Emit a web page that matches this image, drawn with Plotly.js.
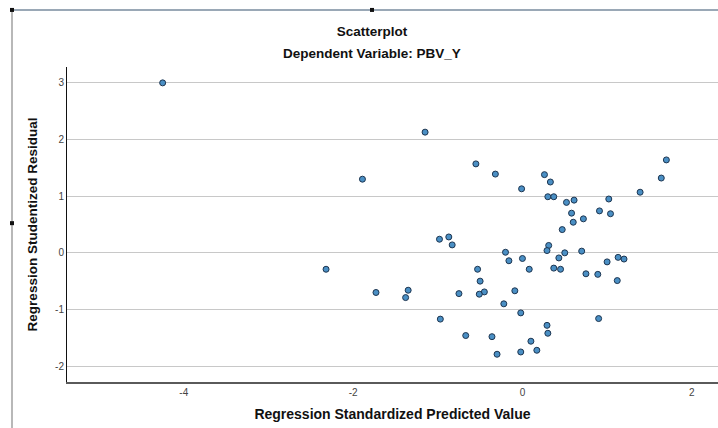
<!DOCTYPE html>
<html>
<head>
<meta charset="utf-8">
<script src="https://cdn.plot.ly/plotly-3.0.1.min.js"></script>
<style>
  html, body { margin: 0; padding: 0; background: #ffffff; }
  #chart { width: 718px; height: 428px; }
</style>
</head>
<body>
<div id="chart"></div>
<script>
// Regression Standardized Predicted Value (x)
const predicted = [
  -4.25, -1.15, -0.55, -0.32, -1.89, -0.98, -0.87, -0.83, -2.32, -0.53,
  -0.50, -0.45, -0.51, -0.75, -1.73, -1.35, -1.38, -0.97, -0.67, -0.36,
  -0.30, 1.70, 1.64, 1.39, 0.26, 0.33, -0.01, 0.30, 0.37, 0.52,
  0.61, 1.02, 0.58, 0.60, 0.72, 0.91, 1.04, 0.47, 0.31, 0.29,
  0.50, 0.70, 0.43, -0.20, -0.16, 0.00, 0.08, 0.37, 0.45, 0.75,
  0.89, 1.00, 1.13, 1.20, 1.12, -0.09, -0.22, -0.02, 0.90, 0.29,
  0.30, 0.10, 0.17, -0.02
];
// Regression Studentized Residual (y)
const residual = [
  3.00, 2.13, 1.57, 1.39, 1.30, 0.24, 0.28, 0.14, -0.29, -0.29,
  -0.50, -0.69, -0.73, -0.72, -0.70, -0.66, -0.79, -1.17, -1.46, -1.48,
  -1.79, 1.64, 1.32, 1.07, 1.38, 1.25, 1.13, 0.99, 0.99, 0.89,
  0.93, 0.95, 0.70, 0.54, 0.60, 0.74, 0.69, 0.41, 0.13, 0.04,
  0.00, 0.03, -0.09, 0.01, -0.14, -0.10, -0.29, -0.27, -0.29, -0.37,
  -0.38, -0.16, -0.08, -0.11, -0.49, -0.67, -0.90, -1.06, -1.16, -1.28,
  -1.42, -1.56, -1.72, -1.75
];
const xTickVals = [-4, -2, 0, 2];
const xTickText = ['-4', '-2', '0', '2'];
const yTickVals = [-2, -1, 0, 1, 2, 3];
const yTickText = ['-2', '-1', '0', '1', '2', '3'];

const FONT = 'Liberation Sans, Arial, sans-serif';

const trace = {
  type: 'scatter',
  mode: 'markers',
  x: predicted,
  y: residual,
  marker: {
    size: 6,
    color: '#4a8fc4',
    line: { color: '#1d3550', width: 1 }
  },
  hoverinfo: 'x+y'
};

const layout = {
  width: 718,
  height: 428,
  margin: { l: 67, r: 0, t: 67, b: 46, pad: 0 },
  paper_bgcolor: '#ffffff',
  plot_bgcolor: '#ffffff',
  showlegend: false,
  font: { family: FONT, color: '#222222' },
  title: {
    text: 'Scatterplot',
    font: { family: FONT, size: 13.5, weight: 'bold', color: '#111111' },
    xref: 'paper', x: 0.4685, xanchor: 'center',
    yref: 'container', y: 0.9276, yanchor: 'middle'
  },
  annotations: [{
    text: 'Dependent Variable: PBV_Y',
    xref: 'paper', yref: 'paper',
    x: 0.4685, y: 1.0413, xanchor: 'center', yanchor: 'middle',
    showarrow: false,
    font: { family: FONT, size: 13.5, weight: 'bold', color: '#111111' }
  }],
  xaxis: {
    range: [-5.38, 2.31],
    tickmode: 'array',
    tickvals: xTickVals,
    ticktext: xTickText,
    ticks: '',
    showgrid: false,
    zeroline: false,
    showline: true,
    linecolor: '#5a5a5a',
    linewidth: 2,
    tickfont: { family: FONT, size: 10, color: '#444444' },
    title: {
      text: 'Regression Standardized Predicted Value',
      font: { family: FONT, size: 14, weight: 'bold', color: '#111111' },
      standoff: 12
    },
    fixedrange: true
  },
  yaxis: {
    range: [-2.28, 3.28],
    tickmode: 'array',
    tickvals: yTickVals,
    ticktext: yTickText,
    ticks: '',
    showgrid: true,
    gridcolor: '#c8c8c8',
    gridwidth: 1,
    zeroline: false,
    showline: true,
    linecolor: '#111111',
    linewidth: 1,
    tickfont: { family: FONT, size: 10, color: '#444444' },
    title: {
      text: 'Regression Studentized Residual',
      font: { family: FONT, size: 13.5, weight: 'bold', color: '#111111' },
      standoff: 14
    },
    fixedrange: true
  },
  shapes: [
    { type: 'line', xref: 'paper', yref: 'paper', x0: -0.0845, x1: 1.0, y0: 1.1811, y1: 1.1811,
      line: { color: '#9aa8b6', width: 2 } },
    { type: 'line', xref: 'paper', yref: 'paper', x0: -0.0845, x1: -0.0845, y0: -0.16, y1: 1.1811,
      line: { color: '#b8b8b8', width: 2 } },
    { type: 'rect', xref: 'paper', yref: 'paper', x0: -0.0876, x1: -0.0814, y0: 1.1748, y1: 1.1875,
      fillcolor: '#111111', line: { width: 0 } },
    { type: 'rect', xref: 'paper', yref: 'paper', x0: 0.4654, x1: 0.4716, y0: 1.1748, y1: 1.1875,
      fillcolor: '#111111', line: { width: 0 } },
    { type: 'rect', xref: 'paper', yref: 'paper', x0: -0.0876, x1: -0.0814, y0: 0.4979, y1: 0.5106,
      fillcolor: '#111111', line: { width: 0 } }
  ]
};

Plotly.newPlot('chart', [trace], layout, { displayModeBar: false, staticPlot: false, responsive: false });
</script>
</body>
</html>
